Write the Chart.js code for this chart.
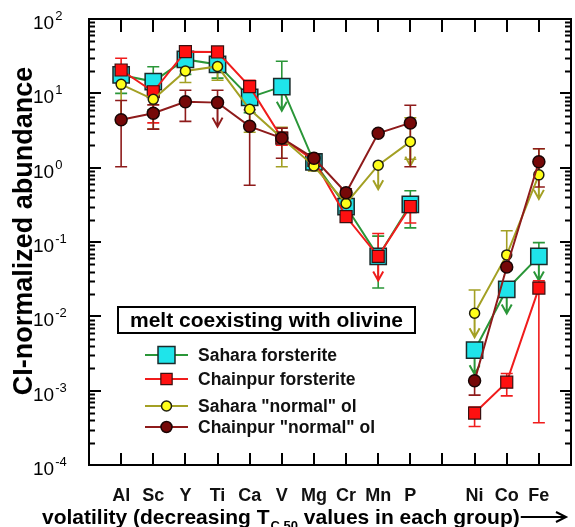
<!DOCTYPE html>
<html>
<head>
<meta charset="utf-8">
<script src="https://cdn.jsdelivr.net/npm/chart.js@4.4.0/dist/chart.umd.min.js"></script>
<style>
  html, body { margin: 0; padding: 0; background: #fff; }
</style>
</head>
<body>
<canvas id="chart" width="575" height="527"></canvas>
<script>
// Categories (blank slots give the frame margin and the gap between groups)
const xLabels = ['', 'Al', 'Sc', 'Y', 'Ti', 'Ca', 'V', 'Mg', 'Cr', 'Mn', 'P', '', 'Ni', 'Co', 'Fe', ''];
const yDecades = [-4, -3, -2, -1, 0, 1, 2];

// Sahara forsterite
const saharaFo   = [null, 17.7, 14.4, 28.6, 24.5, 8.8, 12.3, 1.2, 0.30, 0.064, 0.32, null, 0.0035, 0.023, 0.064, null];
const saharaFoLo = [null, 10, 6, 18, 16, 5.5, null, 1.0, 0.25, 0.024, 0.155, null, null, null, null, null];
const saharaFoHi = [null, 24, 22.8, 34, 30, 12, 27, 1.4, 0.36, 0.12, 0.49, null, null, null, 0.098, null];
const saharaFoUL = [0, 0, 0, 0, 0, 0, 1, 0, 0, 0, 0, 0, 1, 1, 1, 0];

// Chainpur forsterite
const chainpurFo   = [null, 20.6, 10.5, 36.3, 36, 12.3, 2.5, 1.25, 0.22, 0.064, 0.30, null, 0.0005, 0.0013, 0.024, null];
const chainpurFoLo = [null, 14, 4, 30, 30, 9, 2, 1.1, 0.19, null, 0.18, null, 0.00033, 0.00085, 0.00037, null];
const chainpurFoHi = [null, 29.6, 14, 40, 42, 15, 3, 1.4, 0.26, 0.13, 0.36, null, 0.0006, 0.0017, 0.03, null];
const chainpurFoUL = [0, 0, 0, 0, 0, 0, 0, 0, 0, 1, 0, 0, 0, 0, 0, 0];

// Sahara "normal" olivine
const saharaOl   = [null, 13.2, 8.3, 20, 23, 6.1, 2.5, 1.05, 0.33, 1.08, 2.24, null, 0.011, 0.067, 0.8, null];
const saharaOlLo = [null, 4, 3.3, 14, 15, 3, 1.03, 0.9, 0.28, null, 1.3, null, null, null, null, null];
const saharaOlHi = [null, 18, 12, 27, 30, 9, 3.5, 1.2, 0.4, null, 4.7, null, 0.0226, 0.142, 1.8, null];
const saharaOlUL = [0, 0, 0, 0, 0, 0, 0, 0, 0, 1, 1, 0, 1, 0, 1, 0];

// Chainpur "normal" olivine
const chainpurOl   = [null, 4.4, 5.4, 7.7, 7.5, 3.6, 2.5, 1.34, 0.46, 2.9, 4.0, null, 0.00136, 0.046, 1.2, null];
const chainpurOlLo = [null, 1.03, 3.3, 4.2, null, 0.58, 1.34, 1.15, 0.4, null, 1.03, null, 0.00087, null, 0.55, null];
const chainpurOlHi = [null, 8, 7, 11, 11, 6, 3.4, 1.5, 0.52, null, 6.9, null, null, null, 1.8, null];
const chainpurOlUL = [0, 0, 0, 0, 1, 0, 0, 0, 0, 0, 0, 0, 0, 0, 0, 0];

const FONT = '"Liberation Sans", Arial, sans-serif';

// error bars and upper-limit arrows, drawn under the markers
const errorBars = {
  id: 'errorBars',
  beforeDatasetsDraw(chart) {
    const ctx = chart.ctx;
    const y = chart.scales.y;
    chart.data.datasets.forEach((ds, i) => {
      const meta = chart.getDatasetMeta(i);
      ctx.save();
      ctx.strokeStyle = ds.errColor;
      ctx.lineWidth = 1.6;
      meta.data.forEach((pt, j) => {
        if (ds.data[j] == null) return;
        const lo = ds.errLo[j], hi = ds.errHi[j];
        const top = hi != null ? y.getPixelForValue(hi) : pt.y;
        const bot = lo != null ? y.getPixelForValue(lo) : pt.y;
        ctx.beginPath();
        ctx.moveTo(pt.x, top);
        ctx.lineTo(pt.x, bot);
        if (hi != null) { ctx.moveTo(pt.x - 6, top); ctx.lineTo(pt.x + 6, top); }
        if (lo != null) { ctx.moveTo(pt.x - 6, bot); ctx.lineTo(pt.x + 6, bot); }
        ctx.stroke();
        if (ds.upperLimit[j]) {
          const end = pt.y + 24;
          ctx.lineWidth = 2;
          ctx.beginPath();
          ctx.moveTo(pt.x, pt.y);
          ctx.lineTo(pt.x, end);
          ctx.moveTo(pt.x - 5, end - 9);
          ctx.lineTo(pt.x, end);
          ctx.lineTo(pt.x + 5, end - 9);
          ctx.stroke();
          ctx.lineWidth = 1.6;
        }
      });
      ctx.restore();
    });
  }
};

// frame, inward ticks, y labels with exponents, axis titles, legend
const decorations = {
  id: 'decorations',
  afterDraw(chart) {
    const ctx = chart.ctx;
    const a = chart.chartArea;
    const x = chart.scales.x, y = chart.scales.y;
    ctx.save();
    ctx.strokeStyle = '#000';
    ctx.fillStyle = '#000';
    ctx.lineWidth = 2;
    ctx.strokeRect(a.left, a.top, a.right - a.left, a.bottom - a.top);

    ctx.beginPath();
    for (let i = 1; i < xLabels.length - 1; i++) {
      const px = Math.round(x.getPixelForValue(i));
      ctx.moveTo(px, a.bottom); ctx.lineTo(px, a.bottom - 12);
      ctx.moveTo(px, a.top); ctx.lineTo(px, a.top + 13);
    }
    yDecades.forEach(e => {
      const py = Math.round(y.getPixelForValue(Math.pow(10, e)));
      ctx.moveTo(a.left, py); ctx.lineTo(a.left + 12, py);
      ctx.moveTo(a.right, py); ctx.lineTo(a.right - 11, py);
      if (e < 2) {
        for (let m = 2; m <= 9; m++) {
          const pm = Math.round(y.getPixelForValue(m * Math.pow(10, e))) + 0.5;
          ctx.moveTo(a.left, pm); ctx.lineTo(a.left + 6, pm);
          ctx.moveTo(a.right, pm); ctx.lineTo(a.right - 6, pm);
        }
      }
    });
    ctx.stroke();

    // y tick labels
    ctx.textBaseline = 'alphabetic';
    ctx.textAlign = 'left';
    yDecades.forEach(e => {
      const py = y.getPixelForValue(Math.pow(10, e));
      ctx.font = '19px ' + FONT;
      ctx.fillText('10', 33, py + 10);
      const w = ctx.measureText('10').width;
      ctx.font = '13px ' + FONT;
      ctx.fillText(e < 0 ? '-' + (-e) : String(e), 33 + w + 1, py + 1);
    });

    // y title
    ctx.save();
    ctx.translate(25, 231);
    ctx.rotate(-Math.PI / 2);
    ctx.textAlign = 'center';
    ctx.textBaseline = 'middle';
    ctx.font = 'bold 27px ' + FONT;
    ctx.fillText('CI-normalized abundance', 0, 0);
    ctx.restore();

    // x title with subscript and arrow
    const base = 524;
    let cx = 42;
    ctx.textAlign = 'left';
    ctx.font = 'bold 21px ' + FONT;
    const p1 = 'volatility (decreasing T';
    ctx.fillText(p1, cx, base);
    cx += ctx.measureText(p1).width + 1;
    ctx.font = 'bold 13px ' + FONT;
    const sub = 'C,50';
    ctx.fillText(sub, cx, base + 6);
    cx += ctx.measureText(sub).width;
    ctx.font = 'bold 21px ' + FONT;
    const p2 = ' values in each group)';
    ctx.fillText(p2, cx, base);
    cx += ctx.measureText(p2).width + 1;
    const ay = base - 7;
    ctx.lineWidth = 2;
    ctx.beginPath();
    ctx.moveTo(cx, ay); ctx.lineTo(565, ay);
    ctx.moveTo(556, ay - 5); ctx.lineTo(566, ay); ctx.lineTo(556, ay + 5);
    ctx.stroke();

    // legend
    ctx.fillStyle = '#fff';
    ctx.fillRect(118, 307, 297, 26);
    ctx.strokeStyle = '#000';
    ctx.lineWidth = 2;
    ctx.strokeRect(118, 307, 297, 26);
    ctx.fillStyle = '#000';
    ctx.textAlign = 'center';
    ctx.textBaseline = 'middle';
    ctx.font = 'bold 21px ' + FONT;
    ctx.fillText('melt coexisting with olivine', 266.5, 321);

    const rows = [355, 379, 406, 427];
    chart.data.datasets.forEach((ds, i) => {
      const ry = rows[i];
      ctx.strokeStyle = ds.borderColor;
      ctx.lineWidth = 2;
      ctx.beginPath();
      ctx.moveTo(145, ry); ctx.lineTo(188, ry);
      ctx.stroke();
      ctx.fillStyle = ds.pointBackgroundColor;
      ctx.strokeStyle = ds.pointBorderColor;
      ctx.lineWidth = ds.pointBorderWidth;
      Chart.helpers.drawPoint(ctx, { pointStyle: ds.pointStyle, radius: ds.legendRadius, rotation: 0, borderWidth: ds.pointBorderWidth }, 166.5, ry);
      ctx.fillStyle = '#111';
      ctx.textAlign = 'left';
      ctx.font = 'bold 17.5px ' + FONT;
      ctx.fillText(ds.label, 198, ry + 1);
    });
    ctx.restore();
  }
};

new Chart(document.getElementById('chart'), {
  type: 'line',
  data: {
    labels: xLabels,
    datasets: [
      {
        label: 'Sahara forsterite',
        data: saharaFo, errLo: saharaFoLo, errHi: saharaFoHi, upperLimit: saharaFoUL,
        borderColor: '#2a9638', errColor: '#2a9638', borderWidth: 2,
        pointStyle: 'rect', pointRadius: 11.5, legendRadius: 12,
        pointBackgroundColor: '#1fe4ea', pointBorderColor: '#1a2a2a', pointBorderWidth: 1.5,
        order: 4
      },
      {
        label: 'Chainpur forsterite',
        data: chainpurFo, errLo: chainpurFoLo, errHi: chainpurFoHi, upperLimit: chainpurFoUL,
        borderColor: '#f01c1c', errColor: '#f01c1c', borderWidth: 2,
        pointStyle: 'rect', pointRadius: 8.5, legendRadius: 8,
        pointBackgroundColor: '#ff1010', pointBorderColor: '#3a1010', pointBorderWidth: 1.2,
        order: 3
      },
      {
        label: 'Sahara "normal" ol',
        data: saharaOl, errLo: saharaOlLo, errHi: saharaOlHi, upperLimit: saharaOlUL,
        borderColor: '#a3a024', errColor: '#a3a024', borderWidth: 2,
        pointStyle: 'circle', pointRadius: 5, legendRadius: 5,
        pointBackgroundColor: '#ffff1a', pointBorderColor: '#202010', pointBorderWidth: 1.5,
        order: 2
      },
      {
        label: 'Chainpur "normal" ol',
        data: chainpurOl, errLo: chainpurOlLo, errHi: chainpurOlHi, upperLimit: chainpurOlUL,
        borderColor: '#8e1b1b', errColor: '#8e1b1b', borderWidth: 2,
        pointStyle: 'circle', pointRadius: 6, legendRadius: 5.5,
        pointBackgroundColor: '#760808', pointBorderColor: '#1a0505', pointBorderWidth: 1.5,
        order: 1
      }
    ]
  },
  options: {
    responsive: false,
    animation: false,
    spanGaps: false,
    layout: { autoPadding: false, padding: { top: 19, right: 4, left: 0, bottom: 0 } },
    plugins: {
      legend: { display: false },
      tooltip: { enabled: false }
    },
    scales: {
      x: {
        type: 'category',
        offset: false,
        grid: { display: false },
        border: { display: false },
        ticks: {
          autoSkip: false,
          maxRotation: 0,
          padding: 12,
          color: '#111',
          font: { family: FONT, size: 18, weight: 'bold' }
        },
        afterFit(scale) {
          scale.height = 62;
          scale.paddingLeft = 0;
          scale.paddingRight = 0;
        }
      },
      y: {
        type: 'logarithmic',
        min: 1e-4,
        max: 100,
        grid: { display: false },
        border: { display: false },
        ticks: { display: false },
        afterFit(scale) { scale.width = 89; }
      }
    }
  },
  plugins: [errorBars, decorations]
});
</script>
</body>
</html>
